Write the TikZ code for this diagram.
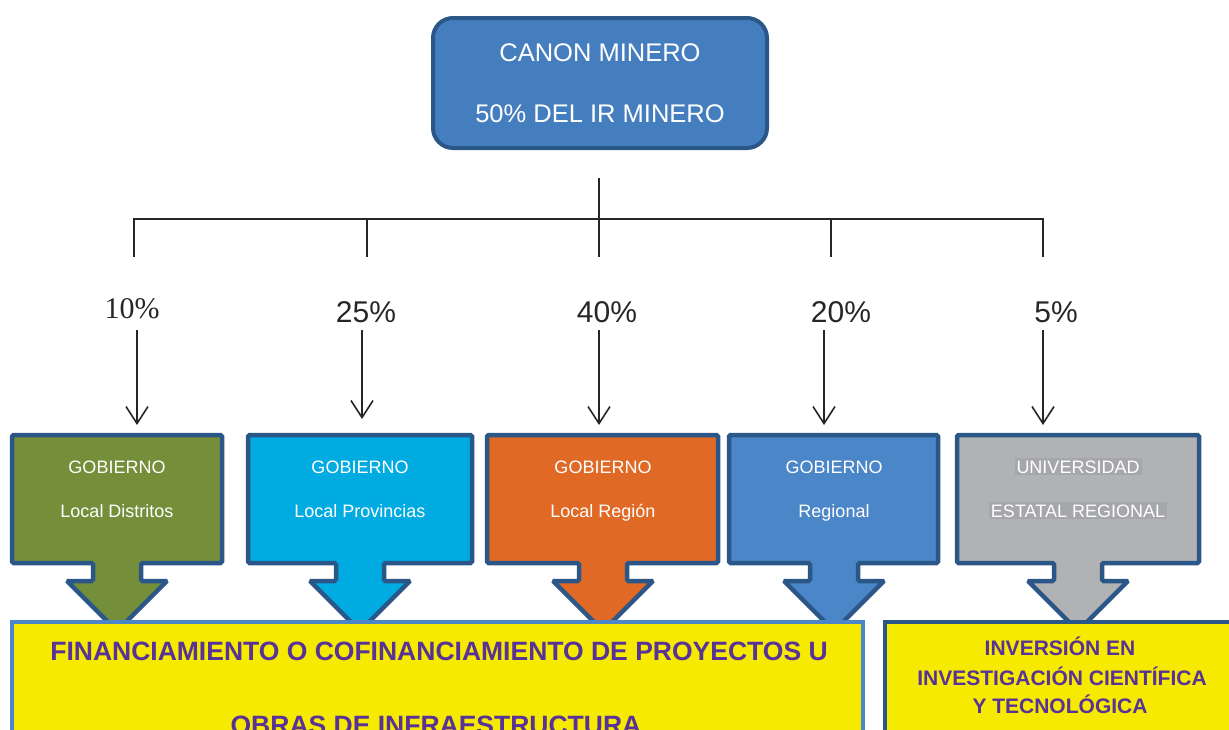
\documentclass[tikz,border=0pt]{standalone}
\usepackage{fontspec}
\setmainfont{Liberation Sans}
\newfontfamily\timesf{Liberation Serif}
\usetikzlibrary{arrows.meta}
\definecolor{topfill}{RGB}{69,126,190}
\definecolor{darkedge}{RGB}{42,87,136}
\definecolor{lightedge}{RGB}{76,134,200}
\definecolor{cgreen}{RGB}{116,142,58}
\definecolor{ccyan}{RGB}{0,171,226}
\definecolor{corange}{RGB}{224,106,37}
\definecolor{cblue}{RGB}{75,135,200}
\definecolor{cgray}{RGB}{177,178,180}
\definecolor{cgrayhl}{RGB}{166,167,170}
\definecolor{cyellow}{RGB}{245,234,0}
\definecolor{cpurple}{RGB}{88,50,150}
\tikzset{
  callout/.style={draw=darkedge, line width=4.5pt, rounded corners=1.5pt, line join=miter},
  boxtxt/.style={text=white, font=\fontsize{18}{20}\selectfont, anchor=base, inner sep=0pt},
  pct/.style={font=\fontsize{30}{32}\selectfont, anchor=base, inner sep=0pt, text=black!85},
  tree/.style={line width=1.6pt, black!85},
  arr/.style={line width=1.6pt, black!85, -{Straight Barb[length=17pt,width=22pt,line width=1.6pt]}},
  yel/.style={fill=cyellow, line width=4.5pt},
  purp/.style={text=cpurple, font=\bfseries, anchor=base, inner sep=0pt},
}
\newcommand{\calloutbox}[4]{% left, right, center, fill
  \path[callout, fill=#4] (#1,435) -- (#2,435) -- (#2,563) -- ({#3+24},563) -- ({#3+24},581)
    -- ({#3+50},581) -- (#3,631) -- ({#3-50},581) -- ({#3-24},581) -- ({#3-24},563) -- (#1,563) -- cycle;}
\begin{document}
\begin{tikzpicture}[x=1pt,y=-1pt]
\useasboundingbox (0,0) rectangle (1229,729);
\clip (0,0) rectangle (1229,729);
% top box
\node[draw=darkedge, fill=topfill, line width=4pt, rounded corners=20pt,
      minimum width=334pt, minimum height=130pt, inner sep=0pt] (top) at (600,83) {};
\node[boxtxt, font=\fontsize{25.5}{28}\selectfont] (t1) at (600,61) {CANON MINERO};
\node[boxtxt, font=\fontsize{25.5}{28}\selectfont] (t2) at (600,122) {50\% DEL IR MINERO};
% tree
\coordinate (hub) at (599,178);
\coordinate (j) at (599,219);
\coordinate (l1) at (134,219); \coordinate (e1) at (134,257);
\coordinate (l2) at (367,219); \coordinate (e2) at (367,257);
\coordinate (e3) at (599,257);
\coordinate (l4) at (831,219); \coordinate (e4) at (831,257);
\coordinate (l5) at (1043,219); \coordinate (e5) at (1043,257);
\draw[tree] (hub) -- (e3);
\draw[tree] (e1) -- (l1) -- (l5) -- (e5);
\draw[tree] (l2) -- (e2);
\draw[tree] (l4) -- (e4);
% percentages
\node[pct, font=\timesf\fontsize{30}{32}\selectfont] (p1) at (132,318) {10\%};
\node[pct] (p2) at (366,322) {25\%};
\node[pct] (p3) at (607,322) {40\%};
\node[pct] (p4) at (841,322) {20\%};
\node[pct] (p5) at (1056,322) {5\%};
\coordinate (a1s) at (137,330); \coordinate (a1e) at (137,425);
\coordinate (a2s) at (362,330); \coordinate (a2e) at (362,419);
\coordinate (a3s) at (599,330); \coordinate (a3e) at (599,425);
\coordinate (a4s) at (824,330); \coordinate (a4e) at (824,425);
\coordinate (a5s) at (1043,330); \coordinate (a5e) at (1043,425);
\draw[arr] (a1s) -- (a1e);
\draw[arr] (a2s) -- (a2e);
\draw[arr] (a3s) -- (a3e);
\draw[arr] (a4s) -- (a4e);
\draw[arr] (a5s) -- (a5e);
% callout boxes
\calloutbox{12}{222}{117}{cgreen}
\calloutbox{248}{472}{360}{ccyan}
\calloutbox{487}{718}{603}{corange}
\calloutbox{729}{938}{834}{cblue}
\calloutbox{957}{1199}{1078}{cgray}
\node[boxtxt] (g1a) at (117,473) {GOBIERNO};
\node[boxtxt] (g1b) at (117,517) {Local Distritos};
\node[boxtxt] (g2a) at (360,473) {GOBIERNO};
\node[boxtxt] (g2b) at (360,517) {Local Provincias};
\node[boxtxt] (g3a) at (603,473) {GOBIERNO};
\node[boxtxt] (g3b) at (603,517) {Local Región};
\node[boxtxt] (g4a) at (834,473) {GOBIERNO};
\node[boxtxt] (g4b) at (834,517) {Regional};
\node[boxtxt, fill=cgrayhl, inner sep=2pt] (g5a) at (1078,473) {UNIVERSIDAD};
\node[boxtxt, fill=cgrayhl, inner sep=2pt] (g5b) at (1078,517) {ESTATAL REGIONAL};
% yellow boxes
\path[yel, draw=lightedge] (12,622) rectangle (863,760);
\path[yel, draw=darkedge] (885,622) rectangle (1260,760);
\node[purp, font=\bfseries\fontsize{26.5}{28}\selectfont] (y1) at (439,660) {FINANCIAMIENTO O COFINANCIAMIENTO DE PROYECTOS U};
\node[purp, font=\bfseries\fontsize{26.5}{28}\selectfont] (y2) at (436,734) {OBRAS DE INFRAESTRUCTURA};
\node[purp, font=\bfseries\fontsize{21}{23}\selectfont] (r1) at (1060,655) {INVERSIÓN EN};
\node[purp, font=\bfseries\fontsize{21}{23}\selectfont] (r2) at (1062,685) {INVESTIGACIÓN CIENTÍFICA};
\node[purp, font=\bfseries\fontsize{21}{23}\selectfont] (r3) at (1060,713) {Y TECNOLÓGICA};
\end{tikzpicture}
\end{document}
